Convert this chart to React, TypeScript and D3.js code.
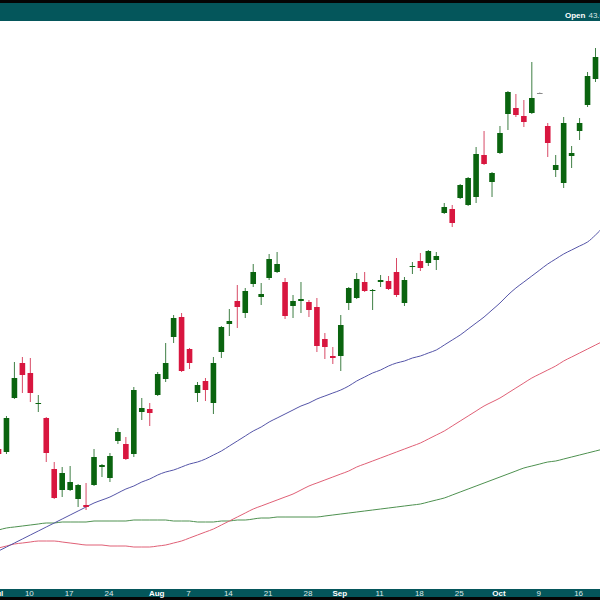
import React from "react";
import * as d3 from "d3";

const dates: string[] = [
  "2023-07-03","2023-07-05","2023-07-06","2023-07-07","2023-07-10","2023-07-11","2023-07-12","2023-07-13","2023-07-14",
  "2023-07-17","2023-07-18","2023-07-19","2023-07-20","2023-07-21","2023-07-24","2023-07-25","2023-07-26","2023-07-27","2023-07-28","2023-07-31",
  "2023-08-01","2023-08-02","2023-08-03","2023-08-04","2023-08-07","2023-08-08","2023-08-09","2023-08-10","2023-08-11",
  "2023-08-14","2023-08-15","2023-08-16","2023-08-17","2023-08-18","2023-08-21","2023-08-22","2023-08-23","2023-08-24","2023-08-25",
  "2023-08-28","2023-08-29","2023-08-30","2023-08-31","2023-09-01","2023-09-05","2023-09-06","2023-09-07","2023-09-08",
  "2023-09-11","2023-09-12","2023-09-13","2023-09-14","2023-09-15","2023-09-18","2023-09-19","2023-09-20","2023-09-21","2023-09-22",
  "2023-09-25","2023-09-26","2023-09-27","2023-09-28","2023-09-29","2023-10-02","2023-10-03","2023-10-04","2023-10-05","2023-10-06",
  "2023-10-09","2023-10-10","2023-10-11","2023-10-12","2023-10-13","2023-10-16","2023-10-17","2023-10-18","2023-10-19"
];

const opens: number[] = [
  36.20,36.14,37.22,37.92,37.72,37.10,36.82,35.80,35.38,35.38,35.20,35.08,35.48,35.84,35.62,36.36,36.30,36.10,36.94,37.00,
  37.28,37.60,38.44,38.84,38.20,37.32,37.56,37.12,38.14,38.70,39.16,38.92,39.50,39.24,39.62,39.74,39.54,39.06,39.16,39.14,
  39.04,38.40,38.06,38.06,39.12,39.22,39.54,39.36,39.54,39.56,39.74,39.12,39.84,39.96,39.92,39.98,40.92,41.00,41.22,41.08,
  41.24,42.08,41.54,42.12,42.90,43.02,42.86,42.92,43.32,42.66,41.78,41.52,42.06,42.56,43.08,43.60
];
const highs: number[] = [
  36.28,36.86,37.94,38.04,38.02,37.28,36.84,35.94,35.84,35.86,35.50,35.52,36.20,35.90,36.12,36.62,36.44,37.44,37.22,37.12,
  37.74,38.32,38.88,38.92,38.22,37.54,37.62,38.04,38.66,39.00,39.48,39.42,39.90,39.52,40.10,40.14,39.62,39.28,39.54,39.18,
  39.22,38.52,38.24,38.88,39.44,39.72,39.74,39.40,39.68,39.66,40.02,39.64,39.94,40.12,40.18,40.14,41.12,41.08,41.50,41.64,
  42.24,42.56,41.74,42.66,43.36,43.30,43.18,43.94,43.33,42.72,42.08,42.84,42.26,42.82,43.74,44.22
];
const lows: number[] = [
  36.02,36.10,37.20,37.32,37.14,36.94,35.94,35.20,35.24,35.36,35.04,34.98,35.46,35.64,35.54,36.30,35.98,36.04,36.78,36.66,
  37.26,37.54,38.32,37.74,37.80,37.14,37.16,36.90,38.02,38.46,38.62,38.82,39.44,39.08,39.58,39.72,38.80,38.82,38.92,38.84,
  38.14,38.00,37.90,37.76,38.98,39.20,39.34,38.98,39.44,39.38,39.24,39.06,39.70,39.76,39.86,39.78,40.90,40.64,41.20,41.06,
  41.12,41.88,41.24,42.10,42.58,42.84,42.64,42.90,43.31,42.04,41.64,41.42,41.82,42.38,43.04,43.54
];
const closes: number[] = [
  36.10,36.82,37.62,37.68,37.32,37.12,36.12,35.22,35.72,35.54,35.48,35.04,36.04,35.88,36.06,36.54,36.00,37.38,37.02,36.92,
  37.70,37.92,38.82,37.76,37.92,37.48,37.38,37.92,38.64,38.76,39.04,39.36,39.74,39.30,40.00,39.90,38.86,39.16,39.20,38.98,
  38.26,38.24,38.02,38.68,39.42,39.60,39.36,39.38,39.58,39.40,39.28,39.58,39.86,39.82,40.16,40.06,41.04,40.72,41.48,41.62,
  42.10,41.90,41.72,42.52,43.34,42.88,42.74,43.22,43.32,42.32,41.88,42.72,42.12,42.72,43.66,44.04
];

const ma50: number[] = [
  34.16,34.24,34.32,34.40,34.48,34.56,34.64,34.72,34.80,34.88,34.96,35.04,35.12,35.18,35.24,35.32,35.40,35.46,35.54,35.60,
  35.68,35.74,35.78,35.84,35.90,35.94,36.00,36.08,36.16,36.26,36.36,36.46,36.56,36.64,36.74,36.82,36.90,36.98,37.06,37.12,
  37.20,37.26,37.32,37.38,37.46,37.56,37.64,37.72,37.78,37.86,37.92,37.96,38.02,38.06,38.12,38.18,38.28,38.38,38.48,38.60,
  38.72,38.84,38.98,39.12,39.28,39.42,39.54,39.66,39.78,39.90,40.00,40.10,40.18,40.26,40.34,40.48,40.64
];
const ma100: number[] = [
  34.22,34.26,34.30,34.32,34.34,34.36,34.36,34.36,34.34,34.32,34.30,34.28,34.28,34.28,34.26,34.26,34.26,34.24,34.24,34.24,
  34.26,34.28,34.32,34.36,34.42,34.48,34.54,34.60,34.68,34.76,34.84,34.92,35.00,35.06,35.12,35.18,35.24,35.30,35.38,35.46,
  35.52,35.58,35.64,35.70,35.76,35.84,35.90,35.96,36.02,36.08,36.14,36.20,36.26,36.32,36.40,36.48,36.56,36.66,36.76,36.86,
  36.96,37.06,37.14,37.22,37.32,37.42,37.52,37.62,37.70,37.78,37.86,37.96,38.04,38.12,38.20,38.28,38.36
];
const ma200: number[] = [
  34.58,34.62,34.64,34.66,34.68,34.70,34.72,34.72,34.74,34.74,34.74,34.74,34.76,34.76,34.76,34.76,34.76,34.78,34.78,34.78,
  34.78,34.78,34.76,34.76,34.76,34.74,34.74,34.74,34.76,34.76,34.78,34.78,34.80,34.82,34.82,34.84,34.84,34.84,34.84,34.84,
  34.84,34.86,34.88,34.90,34.92,34.94,34.96,34.98,35.00,35.02,35.04,35.06,35.08,35.10,35.14,35.18,35.22,35.28,35.34,35.40,
  35.46,35.52,35.58,35.64,35.70,35.76,35.82,35.86,35.90,35.94,35.96,36.00,36.04,36.08,36.12,36.16,36.20
];

const tickDates: string[] = ["2023-07-03","2023-07-10","2023-07-17","2023-07-24","2023-08-01","2023-08-07","2023-08-14","2023-08-21",
  "2023-08-28","2023-09-01","2023-09-11","2023-09-18","2023-09-25","2023-10-02","2023-10-09","2023-10-16"];
const tickLabels: string[] = ["Jul","10","17","24","Aug","7","14","21","28","Sep","11","18","25","Oct","9","16"];

const headerLabel = "Open";
const headerValue = "43.60";

const W = 600, H = 600;
const TEAL = "#04565b";
const UP = "#0a640f";
const DOWN = "#d8163f";

export default function App() {
  const x = d3.scaleLinear().domain([0, dates.length - 1]).range([-1.5, -1.5 + 7.96 * (dates.length - 1)]);
  const y = d3.scaleLinear().domain([33.42, 44.78]).range([588, 20]);
  const bw = 5.6;

  const line = (vals: number[]) =>
    d3.line<number>().x((_, i) => x(i)).y((v) => y(v)).curve(d3.curveMonotoneX)(vals) || "";

  const candles = opens.map((o, i) => {
    const c = closes[i];
    const up = c >= o;
    const doji = Math.abs(c - o) < 0.015;
    const col = doji ? "#8a8a8a" : up ? UP : DOWN;
    const top = y(Math.max(o, c));
    const bot = y(Math.min(o, c));
    const cx = x(i);
    return (
      <g key={dates[i]}>
        <line x1={cx} x2={cx} y1={y(highs[i])} y2={y(lows[i])} stroke={doji ? col : up ? "#3f7f45" : "#d84a66"} strokeWidth={1} />
        <rect x={cx - bw / 2} y={top} width={bw} height={Math.max(bot - top, 1)} fill={col} />
      </g>
    );
  });

  return (
    <div style={{ position: "fixed", left: 0, top: 0, width: W, height: H, background: "#fff" }}>
      <svg width={W} height={H} style={{ display: "block" }} fontFamily="'Liberation Sans', Arial, sans-serif">
        <rect x={0} y={0} width={W} height={H} fill="#fff" />
        <path d={line(ma200)} fill="none" stroke="#4e9150" strokeWidth={1} />
        <path d={line(ma100)} fill="none" stroke="#e06076" strokeWidth={1} />
        <path d={line(ma50)} fill="none" stroke="#5555a8" strokeWidth={1} />
        {candles}
        <rect x={0} y={0} width={W} height={3} fill="#050505" />
        <rect x={0} y={3} width={W} height={18} fill={TEAL} />
        <text x={565} y={18} fontSize={8} fill="#fff">
          <tspan fontWeight="bold">{headerLabel}</tspan>
          <tspan dx={3} fill="#d8e4e4">{headerValue}</tspan>
        </text>
        <rect x={0} y={589} width={W} height={8} fill={TEAL} />
        <rect x={0} y={597} width={W} height={3} fill="#050505" />
        {tickDates.map((d, k) => {
          const idx = dates.indexOf(d);
          const isMonth = isNaN(Number(tickLabels[k]));
          return (
            <text key={d} x={x(idx) - 1} y={596} fontSize={8} textAnchor="middle"
              fill={isMonth ? "#fff" : "#dfe9e9"} fontWeight={isMonth ? "bold" : "normal"}>
              {tickLabels[k]}
            </text>
          );
        })}
      </svg>
    </div>
  );
}
